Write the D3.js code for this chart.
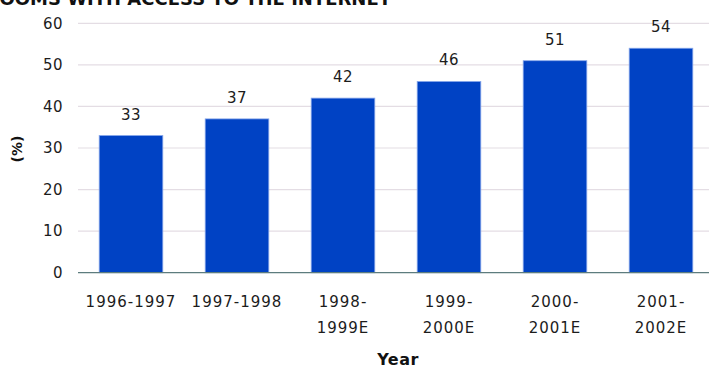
<!DOCTYPE html>
<html>
<head>
<meta charset="utf-8">
<script src="https://cdn.jsdelivr.net/npm/d3@7"></script>
<style>
    body { margin: 0; background: #fff; }
    svg { display: block; font-family: "DejaVu Sans", sans-serif; }
</style>
</head>
<body>
<div id="viewer"></div>
<script>
// chart data
const years = ['1996-1997', '1997-1998', '1998-\n1999E', '1999-\n2000E', '2000-\n2001E', '2001-\n2002E'];
const values = [33, 37, 42, 46, 51, 54];
const yTicks = [0, 10, 20, 30, 40, 50, 60];

const width = 709;
const height = 370;
const margin = { top: 23.3, right: -5, bottom: 97.3, left: 78 };
const textColor = "#1c1c1c";

const svg = d3.select("#viewer")
    .append("svg")
    .attr("width", width)
    .attr("height", height);

const x = d3.scaleBand()
    .domain(years)
    .range([margin.left, width - margin.right])
    .paddingInner(0.4)
    .paddingOuter(0.2);

const y = d3.scaleLinear()
    .domain([0, 60])
    .range([height - margin.bottom, margin.top]);

// title, mostly cut off at the top like in the original
svg.append("text")
    .attr("x", 391)
    .attr("y", 5)
    .attr("text-anchor", "end")
    .attr("font-size", "18px")
    .attr("font-weight", "bold")
    .attr("fill", "#111")
    .text("PERCENTAGE OF CLASSROOMS WITH ACCESS TO THE INTERNET");

// gridlines
svg.append("g")
    .selectAll("line")
    .data(yTicks.filter(d => d > 0))
    .join("line")
    .attr("x1", margin.left)
    .attr("x2", width)
    .attr("y1", d => y(d))
    .attr("y2", d => y(d))
    .attr("stroke", "#e4dde4")
    .attr("stroke-width", 1.2);

// y axis labels
const yAxis = svg.append("g")
    .attr("transform", `translate(${margin.left},0)`)
    .call(d3.axisLeft(y).tickValues(yTicks).tickSize(0).tickPadding(15));
yAxis.select(".domain").remove();
yAxis.selectAll("text")
    .attr("font-family", "DejaVu Sans, sans-serif")
    .attr("font-size", "15px")
    .attr("letter-spacing", "0.5px")
    .attr("fill", textColor);

// bars
svg.append("g")
    .selectAll("rect")
    .data(values)
    .join("rect")
    .attr("x", (d, i) => x(years[i]))
    .attr("y", d => y(d))
    .attr("width", x.bandwidth())
    .attr("height", d => y(0) - y(d))
    .attr("fill", "#0042c4")
    .attr("stroke", "#86a6ea")
    .attr("stroke-width", 0.8);

// value labels
svg.append("g")
    .selectAll("text")
    .data(values)
    .join("text")
    .attr("x", (d, i) => x(years[i]) + x.bandwidth() / 2)
    .attr("y", d => y(d) - 16)
    .attr("text-anchor", "middle")
    .attr("font-size", "15px")
    .attr("letter-spacing", "0.5px")
    .attr("fill", textColor)
    .text(d => d);

// baseline
svg.append("line")
    .attr("x1", margin.left)
    .attr("x2", width)
    .attr("y1", y(0))
    .attr("y2", y(0))
    .attr("stroke", "#5d7c7e")
    .attr("stroke-width", 1.3);

// x axis labels (split on newline)
const xLabels = svg.append("g")
    .selectAll("text")
    .data(years)
    .join("text")
    .attr("x", d => x(d) + x.bandwidth() / 2)
    .attr("y", 307)
    .attr("text-anchor", "middle")
    .attr("font-size", "15px")
    .attr("letter-spacing", "1px")
    .attr("fill", textColor);
xLabels.selectAll("tspan")
    .data(d => d.split("\n"))
    .join("tspan")
    .attr("x", function () { return this.parentNode.getAttribute("x"); })
    .attr("dy", (d, i) => i === 0 ? 0 : 26)
    .text(d => d);

// axis titles
svg.append("text")
    .attr("x", 398)
    .attr("y", 365)
    .attr("text-anchor", "middle")
    .attr("font-size", "16px")
    .attr("font-weight", "bold")
    .attr("letter-spacing", "0.5px")
    .attr("fill", "#111")
    .text("Year");

svg.append("text")
    .attr("transform", `translate(22,${y(30) + 1}) rotate(-90)`)
    .attr("text-anchor", "middle")
    .attr("font-size", "14px")
    .attr("font-weight", "bold")
    .attr("fill", "#111")
    .text("(%)");
</script>
</body>
</html>
